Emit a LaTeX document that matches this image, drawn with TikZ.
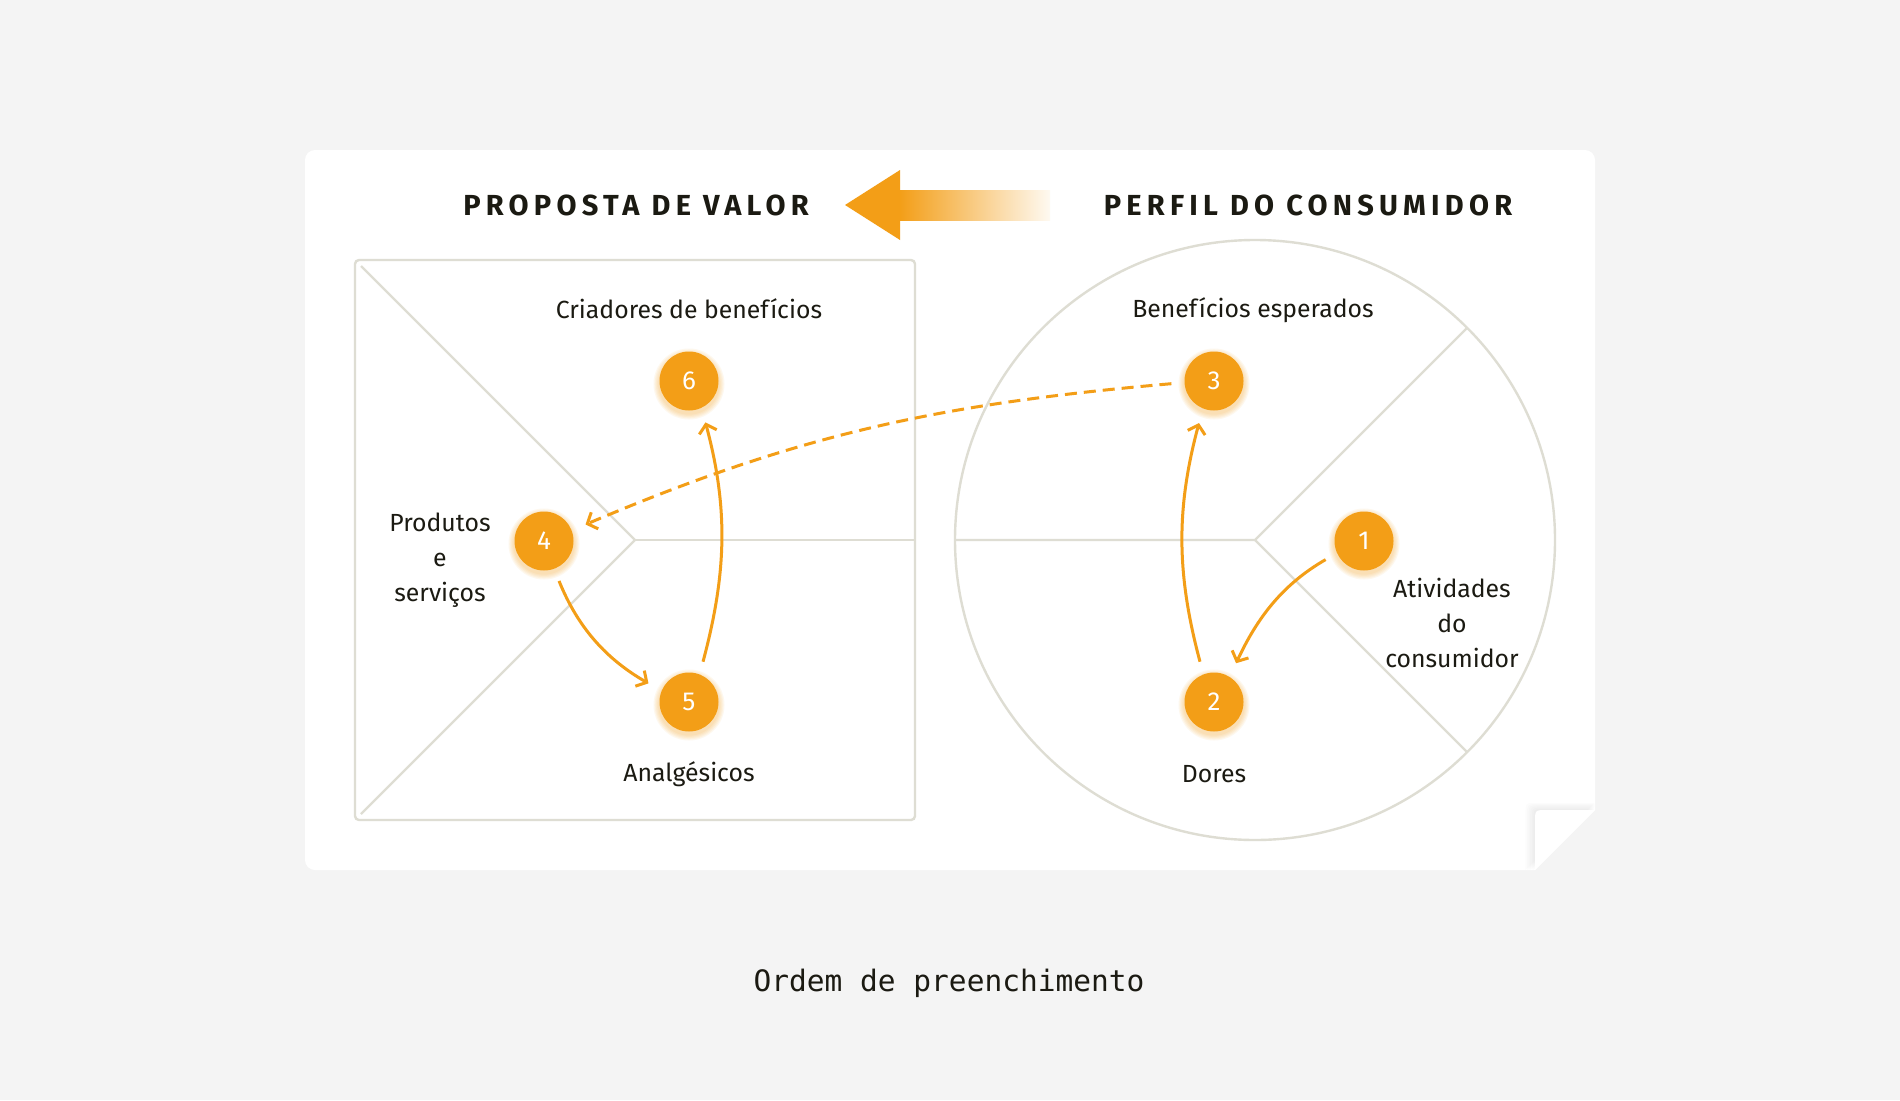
\documentclass[tikz,border=0pt]{standalone}
\usepackage{fontspec}
\setmainfont{Fira Sans}
\setmonofont{DejaVu Sans Mono}
\usetikzlibrary{arrows.meta,positioning}

\definecolor{pagebg}{HTML}{F4F4F4}
\definecolor{accent}{HTML}{F39E17}
\definecolor{frame}{HTML}{DEDDD3}
\definecolor{ink}{HTML}{1B1A12}

\tikzset{
  frameline/.style={draw=frame, line width=2.4pt},
  numdot/.style={circle, fill=accent, text=white, minimum size=59pt, inner sep=0pt, font=\fontsize{26}{26}\selectfont},
  lbl/.style={text=ink, align=center, font=\fontsize{24.8}{35}\selectfont},
  heading/.style={text=ink, font=\fontsize{29}{29}\selectfont\bfseries\addfontfeature{LetterSpace=18}},
  flow/.style={draw=accent, line width=3pt, -{Straight Barb[length=8pt,width=18pt]}, shorten <=13pt, shorten >=15pt},
}

\begin{document}
\begin{tikzpicture}[x=1pt, y=-1pt]
		\fill[pagebg] (0,0) rectangle (1900,1100);
		\useasboundingbox (0,0) rectangle (1900,1100);
		
		% card with folded corner
		\fill[white, rounded corners=10pt] (305,150) rectangle (1595,870);
		\fill[pagebg] (1595,810) -- (1595,870) -- (1535,870) -- cycle;
		\foreach \k in {1,...,6}
			\fill[black, opacity=0.012] ({1535-\k*1.6},870) -- ({1535-\k*1.6},{822-\k*1.2}) .. controls ({1535-\k*1.6},{810-\k*1.2}) .. ({1547-\k*1.6},{810-\k*1.2}) -- (1595,{810-\k*1.2}) -- cycle;
		\fill[white] (1535,870) -- (1535,822) .. controls (1535,810) .. (1547,810) -- (1595,810) -- cycle;
		
		% value map and customer profile
		\draw[frameline, rounded corners=4pt] (355,260) rectangle (915,820);
		\draw[frameline] (361,266) -- (635,540) -- (361,814);
		\draw[frameline] (635,540) -- (915,540);
		\draw[frameline] (1255,540) circle (300pt);
		\draw[frameline] (955,540) -- (1255,540) -- (1467,328);
		\draw[frameline] (1255,540) -- (1467,752);
		
		% big arrow
		\fill[accent] (845,205) -- (900,170) -- (900,240) -- cycle;
		\shade[left color=accent, right color=accent!6!white] (899,190) rectangle (1050,220);
		
		\node[heading] (vp) at (636,205) {PROPOSTA DE VALOR};
		\node[heading] (cp) at (1308,205) {PERFIL DO CONSUMIDOR};
		
		\foreach \n/\x/\y in {1/1364/541, 2/1214/702, 3/1214/381, 4/544/541, 5/689/702, 6/689/381} {
			\foreach \k in {1,...,5}
				\fill[accent, opacity=0.07] (\x,{\y+3}) circle ({29.5pt+\k*1.2pt});
			\node[numdot] (n\n) at (\x,\y) {\n};
		}
		
		\node[lbl] (creators) at (689,309) {Criadores de benefícios};
		\node[lbl] (products) at (440,560) {Produtos\\e\\serviços};
		\node[lbl] (relievers) at (689,774) {Analgésicos};
		\node[lbl] (gains) at (1253,310) {Benefícios esperados};
		\node[lbl] (pains) at (1214,774) {Dores};
		\node[lbl] (jobs) at (1452,623) {Atividades\\do\\consumidor};
		\node[text=ink, font=\ttfamily\fontsize{29.5}{30}\selectfont] (caption) at (949,983) {Ordem de preenchimento};
		
		% filling order
		\draw[flow] (n1.204) to[out=210, in=65] (n2.58);
		\draw[flow] (n2.111) to[out=105, in=255] (n3.248);
		\draw[flow, dash pattern=on 12pt off 7pt] (n3.183) to[out=185, in=23] (n4.21);
		\draw[flow] (n4.290) to[out=292, in=150] (n5.158);
		\draw[flow] (n5.69) to[out=75, in=285] (n6.295);
\end{tikzpicture}
\end{document}
